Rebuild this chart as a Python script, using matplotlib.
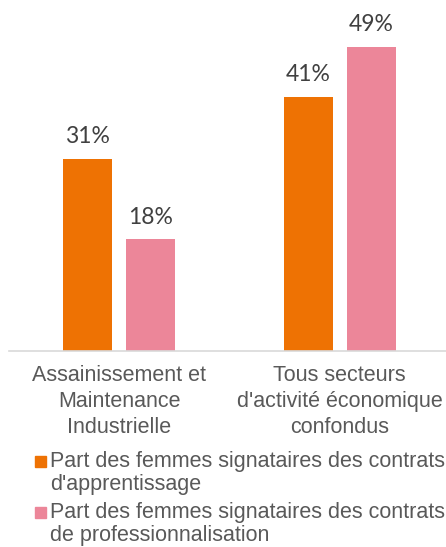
import matplotlib
matplotlib.use("Agg")
import matplotlib.pyplot as plt
from matplotlib.patches import Rectangle

categories = ["Assainissement et\nMaintenance\nIndustrielle",
              "Tous secteurs\nd'activité économique\nconfondus"]
apprentissage = [31, 41]
professionnalisation = [18, 49]
series_labels = ["Part des femmes signataires des contrats\nd'apprentissage",
                 "Part des femmes signataires des contrats\nde professionnalisation"]
colors = ["#EE7203", "#EC8699"]

W, H = 446, 547
fig = plt.figure(figsize=(W / 100, H / 100), dpi=100)
# axes: left 9px, right 450px, baseline at y=351 px from top, top at y=10
ax = fig.add_axes([9 / W, (H - 351) / H, 441 / W, 341 / H])

x = list(range(len(categories)))
bw = 0.222
off = 0.142
b1 = ax.bar([i - off for i in x], apprentissage, width=bw, color=colors[0])
b2 = ax.bar([i + off for i in x], professionnalisation, width=bw, color=colors[1])

for bars, vals in ((b1, apprentissage), (b2, professionnalisation)):
    for rect, v in zip(bars, vals):
        ax.annotate(f"{v}%", (rect.get_x() + rect.get_width() / 2, v),
                    xytext=(0, 8.5), textcoords="offset points",
                    ha="center", va="bottom", fontsize=16.5,
                    family=["Lato", "DejaVu Sans"], color="#404040")

ax.set_xlim(-0.5, 1.5)
ax.set_ylim(0, 55)
ax.set_xticks(x)
ax.set_xticklabels(categories, fontsize=15.5, family=["Liberation Sans", "DejaVu Sans"],
                   color="#595959", linespacing=1.33)
ax.tick_params(axis="x", length=0, pad=10)
ax.set_yticks([])
for s in ("top", "right", "left"):
    ax.spines[s].set_visible(False)
ax.spines["bottom"].set_color("#D9D9D9")
ax.spines["bottom"].set_linewidth(1.2)

# legend (square bottom = first-line baseline; text anchored on last-line baseline)
first_baselines = [467, 518]
last_baselines = [490, 541]
for yb, yl, lab, c in zip(first_baselines, last_baselines, series_labels, colors):
    fig.add_artist(Rectangle((35 / W, (H - yb) / H), 11 / W, 11 / H,
                             transform=fig.transFigure, color=c))
    fig.text(50 / W, (H - yl) / H, lab, fontsize=15.5,
             family=["Liberation Sans", "DejaVu Sans"], color="#595959",
             va="baseline", ha="left", linespacing=1.15)

fig.savefig("out.png", dpi=100)
